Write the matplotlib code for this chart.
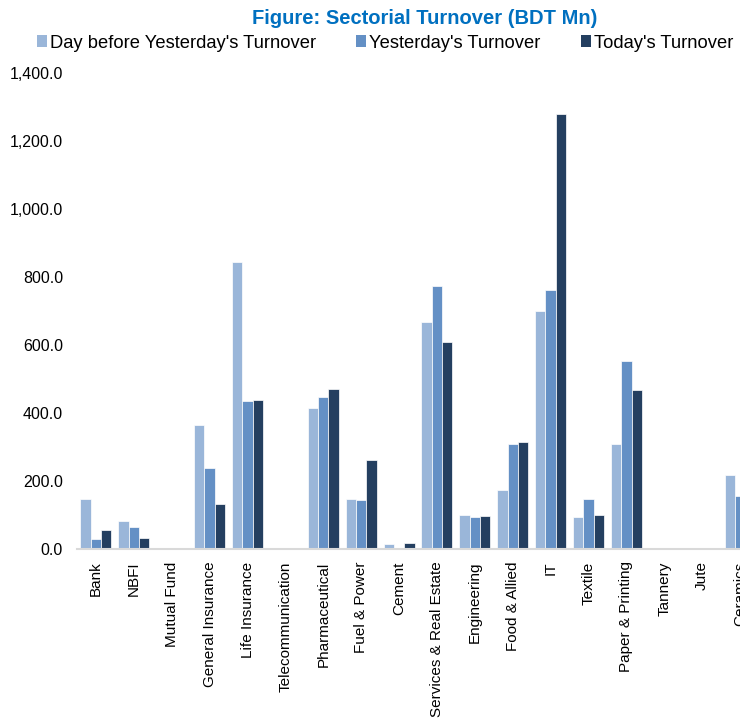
import matplotlib
matplotlib.use("Agg")
import matplotlib.pyplot as plt
from matplotlib.patches import Patch
import numpy as np

plt.rcParams['font.family'] = ['Liberation Sans', 'DejaVu Sans']

categories = ["Bank", "NBFI", "Mutual Fund", "General Insurance", "Life Insurance",
              "Telecommunication", "Pharmaceutical", "Fuel & Power", "Cement",
              "Services & Real Estate", "Engineering", "Food & Allied", "IT",
              "Textile", "Paper & Printing", "Tannery", "Jute", "Ceramics"]
day_before = [146, 82, 1, 366, 844, 0, 416, 148, 14, 668, 100, 173, 700, 95, 309, 0, 0, 219]
yesterday = [30, 65, 0.5, 239, 435, 0, 447, 143, 3, 774, 95, 309, 762, 148, 553, 0, 0, 155]
today = [55, 33, 4, 132, 438, 0, 470, 262, 17, 609, 96, 316, 1279, 99, 468, 0, 0, 120]
series_names = ["Day before Yesterday's Turnover", "Yesterday's Turnover", "Today's Turnover"]
colors = ["#9AB6D9", "#6490C5", "#243F60"]
yticks = [0, 200, 400, 600, 800, 1000, 1200, 1400]

W, H = 740, 721
fig = plt.figure(figsize=(W / 100, H / 100), dpi=100)
ax = fig.add_axes([77 / W, (H - 549) / H, 682 / W, 476 / H])

x = np.arange(len(categories))
bw = 0.273
for i, (vals, c) in enumerate(zip([day_before, yesterday, today], colors)):
    ax.bar(x + (i - 1) * bw, vals, width=bw, color=c, edgecolor="white", linewidth=0.5,
           label=series_names[i])

ax.set_xlim(-0.5, len(categories) - 0.5)
ax.set_ylim(0, 1400)
ax.set_yticks(yticks)
ax.set_yticklabels([f"{v:,.1f}" for v in yticks], fontsize=11.5, color="#000000")
ax.set_xticks(x)
ax.set_xticklabels(categories, rotation=90, fontsize=11, color="#000000")
ax.tick_params(axis="y", length=0, pad=10)
ax.tick_params(axis="x", length=0, pad=9)
for s in ["left", "right", "top"]:
    ax.spines[s].set_visible(False)
ax.spines["bottom"].set_color("#D9D9D9")
ax.spines["bottom"].set_linewidth(1.5)

fig.text(425 / W, 1 - 19 / H, "Figure: Sectorial Turnover (BDT Mn)", ha="center", va="center",
         fontsize=14.5, fontweight="bold", color="#0070C0")

handles = [Patch(facecolor=c, edgecolor="none") for c in colors]
fig.legend(handles, series_names, loc="center left", bbox_to_anchor=(37 / W, 1 - 43 / H),
           ncol=3, frameon=False, fontsize=13.2, handlelength=0.55, handleheight=0.55,
           handletextpad=0.15, columnspacing=2.2, borderpad=0, borderaxespad=0)

fig.savefig("out.png", dpi=100)
